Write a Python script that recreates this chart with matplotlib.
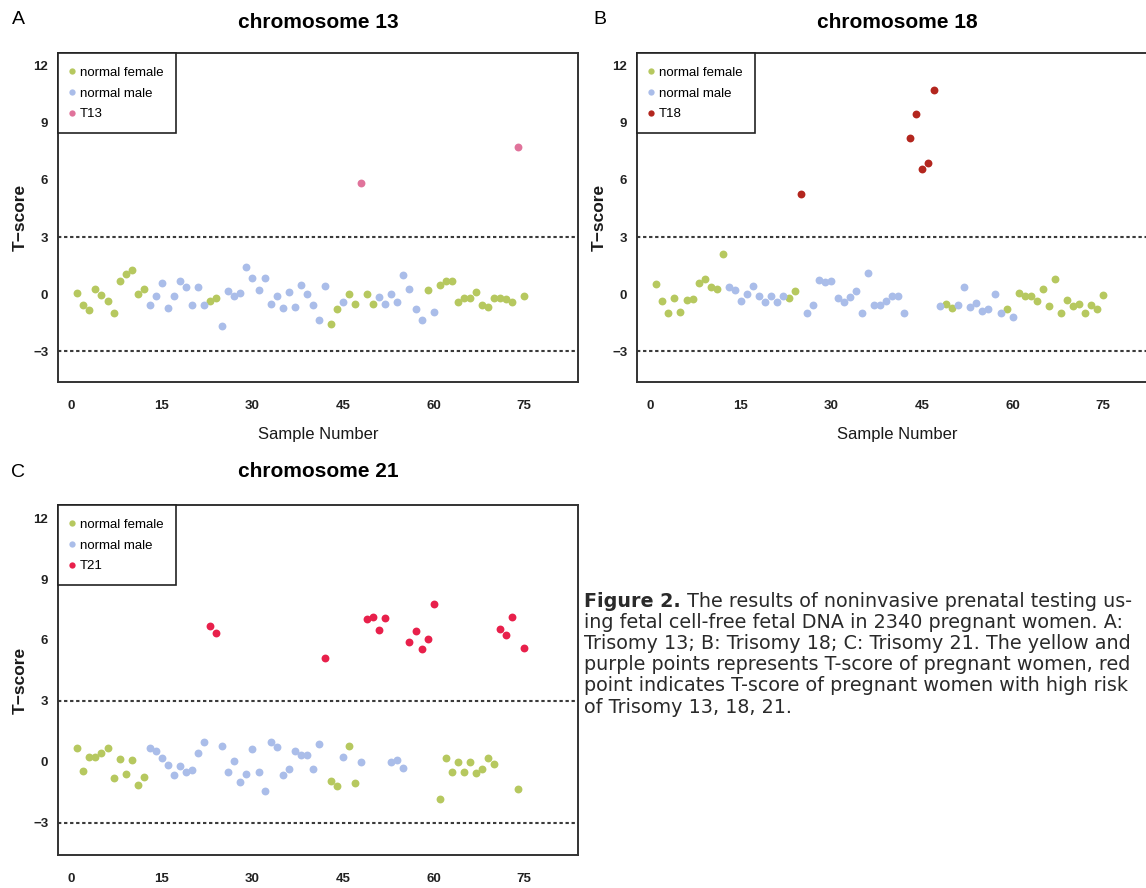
import numpy as np
import matplotlib.pyplot as plt

plt.rcParams['font.family'] = ['Liberation Sans', 'DejaVu Sans']

# sample numbers on the x axis
sample_number = np.arange(1, 76)

# T-scores, one value per sample
chr13_tscore = [0.07, -0.57, -0.84, 0.30, -0.06, -0.33, -0.98, 0.67, 1.04, 1.25,
                0.00, 0.30, -0.54, -0.10, 0.58, -0.71, -0.07, 0.70, 0.39, -0.57,
                0.39, -0.57, -0.35, -0.19, -1.64, 0.15, -0.10, 0.07, 1.44, 0.86,
                0.20, 0.83, -0.49, -0.10, -0.71, 0.11, -0.66, 0.48, 0.04, -0.56,
                -1.33, 0.41, -1.56, -0.78, -0.40, -0.01, -0.49, 5.85, 0.02, -0.49,
                -0.13, -0.49, -0.01, -0.42, 1.00, 0.27, -0.75, -1.36, 0.20, -0.94,
                0.51, 0.71, 0.67, -0.40, -0.19, -0.22, 0.13, -0.56, -0.66, -0.17,
                -0.17, -0.24, -0.40, 7.72, -0.08]
# F = normal female, M = normal male, T = trisomy
chr13_group = ("FFFFFFFFFFFF" "MMMMMMMMMM" "FF" "MMMMMMMMMMMMMMMMMM" "FF" "M" "FF"
               "T" "FF" "MMMMMMMM" "F" "M" "FFFFFFFFFFFFF" "T" "F")

chr18_tscore = [0.52, -0.37, -1.00, -0.19, -0.92, -0.31, -0.23, 0.57, 0.82, 0.37,
                0.25, 2.12, 0.40, 0.21, -0.37, 0.03, 0.45, -0.07, -0.40, -0.07,
                -0.43, -0.09, -0.19, 0.17, 5.25, -1.00, -0.54, 0.73, 0.63, 0.70,
                -0.19, -0.43, -0.12, 0.16, -0.97, 1.13, -0.57, -0.54, -0.37, -0.07,
                -0.07, -0.97, 8.17, 9.47, 6.57, 6.88, 10.71, -0.61, -0.49, -0.73,
                -0.54, 0.38, -0.66, -0.47, -0.90, -0.78, 0.02, -0.97, -0.75, -1.20,
                0.07, -0.07, -0.07, -0.35, 0.30, -0.61, 0.80, -1.00, -0.28, -0.61,
                -0.49, -0.97, -0.54, -0.78, -0.04]
chr18_group = ("FFFFFFFFFFFF" "MMMMMMMMMM" "FF" "T" "MMMMMMMMMMMMMMMMM" "TTTTT" "M"
               "FF" "MMMMMMMM" "F" "M" "FFFFFFFFFFFFFFF")

chr21_tscore = [0.67, -0.44, 0.22, 0.25, 0.43, 0.67, -0.79, 0.12, -0.63, 0.07,
                -1.13, -0.74, 0.65, 0.53, 0.17, -0.15, -0.68, -0.21, -0.49, -0.43,
                0.45, 0.97, 6.67, 6.36, 0.78, -0.53, 0.02, -0.99, -0.60, 0.62,
                -0.49, -1.44, 0.97, 0.73, -0.68, -0.35, 0.53, 0.33, 0.33, -0.36,
                0.87, 5.13, -0.93, -1.19, 0.23, 0.77, -1.03, -0.03, 7.02, 7.12,
                6.51, 7.09, -0.03, 0.07, -0.33, 5.90, 6.46, 5.53, 6.06, 7.76,
                -1.83, 0.17, -0.49, 0.00, -0.53, 0.00, -0.56, -0.36, 0.17, -0.10,
                6.56, 6.23, 7.11, -1.36, 5.58]
chr21_group = ("FFFFFFFFFFFF" "MMMMMMMMMM" "TT" "MMMMMMMMMMMMMMMMM" "T" "FF" "M" "FF"
               "M" "TTTT" "MMM" "TTTTT" "FFFFFFFFFF" "TTT" "F" "T")

x_ticks = [0, 15, 30, 45, 60, 75]
y_ticks = [-3, 0, 3, 6, 9, 12]

female_color = '#b6c85f'
male_color = '#aabde9'

W, H = 1146, 888
fig = plt.figure(figsize=(W / 100, H / 100), dpi=100)


def px_axes(left, top, width, height):
    return fig.add_axes([left / W, 1 - (top + height) / H, width / W, height / H])


def draw_panel(ax, scores, groups, tri_label, tri_color, show_xlabel=True):
    scores = np.array(scores)
    groups = np.array(list(groups))
    for code, label, color in [('F', 'normal female', female_color),
                               ('M', 'normal male', male_color),
                               ('T', tri_label, tri_color)]:
        mask = groups == code
        ax.scatter(sample_number[mask], scores[mask], s=32, color=color,
                   linewidths=0, label=label, zorder=3)
    for level in (3, -3):
        ax.axhline(level, color='#3a3a3a', lw=1.5, linestyle=(0, (1.6, 1.3)), zorder=2)
    ax.set_xlim(-2.2, 83.9)
    ax.set_ylim(-4.6, 12.65)
    ax.set_xticks(x_ticks)
    ax.set_yticks(y_ticks)
    ax.tick_params(axis='both', length=0, labelsize=9.5, colors='#222222')
    ax.tick_params(axis='x', pad=13)
    ax.tick_params(axis='y', pad=7)
    for lab in ax.get_xticklabels() + ax.get_yticklabels():
        lab.set_fontweight('bold')
    for sp in ax.spines.values():
        sp.set_color('#333333')
        sp.set_linewidth(1.4)
    ax.set_ylabel('T\u2212score', fontsize=12.5, fontweight='bold', labelpad=4,
                  color='#1a1a1a')
    if show_xlabel:
        ax.set_xlabel('Sample Number', fontsize=12, labelpad=11, color='#1a1a1a')
    leg = ax.legend(loc='upper left', bbox_to_anchor=(0, 1), borderaxespad=0,
                    fontsize=9.5, scatterpoints=1, markerscale=0.8,
                    handlelength=0.2, handletextpad=0.5, borderpad=0.95,
                    handleheight=0.9, labelspacing=0.6, fancybox=False,
                    framealpha=1, edgecolor='#222222')
    leg.get_frame().set_linewidth(1.2)


ax_a = px_axes(58, 53, 520, 329)
ax_b = px_axes(637, 53, 520, 329)
ax_c = px_axes(58, 505, 520, 350)

draw_panel(ax_a, chr13_tscore, chr13_group, 'T13', '#e0739b')
draw_panel(ax_b, chr18_tscore, chr18_group, 'T18', '#b3261e')
draw_panel(ax_c, chr21_tscore, chr21_group, 'T21', '#e8204b', show_xlabel=False)

# titles and panel letters
for x, y, title in [(318, 22, 'chromosome 13'), (897, 22, 'chromosome 18'),
                    (318, 471, 'chromosome 21')]:
    fig.text(x / W, 1 - y / H, title, fontsize=15, fontweight='bold',
             ha='center', va='center')
for x, y, letter in [(18, 20, 'A'), (600, 20, 'B'), (18, 472, 'C')]:
    fig.text(x / W, 1 - y / H, letter, fontsize=14, ha='center', va='center')

# caption
caption_lines = [
    ' The results of noninvasive prenatal testing us-',
    'ing fetal cell-free fetal DNA in 2340 pregnant women. A:',
    'Trisomy 13; B: Trisomy 18; C: Trisomy 21. The yellow and',
    'purple points represents T-score of pregnant women, red',
    'point indicates T-score of pregnant women with high risk',
    'of Trisomy 13, 18, 21.',
]
cap_font = ['DejaVu Sans']
cap_size = 13.8
cap_x, cap_y, line_h = 584, 601, 21.2
bold = fig.text(cap_x / W, 1 - cap_y / H, 'Figure 2.', fontsize=cap_size,
                family=cap_font, fontweight='bold', va='center', color='#2a2a2a')
fig.canvas.draw()
bb = bold.get_window_extent()
fig.text(bb.x1 / W, 1 - cap_y / H, caption_lines[0], fontsize=cap_size,
         family=cap_font, va='center', color='#2a2a2a')
for i, line in enumerate(caption_lines[1:], start=1):
    fig.text(cap_x / W, 1 - (cap_y + i * line_h) / H, line, fontsize=cap_size,
             family=cap_font, va='center', color='#2a2a2a')

fig.savefig('out.png', dpi=100)
